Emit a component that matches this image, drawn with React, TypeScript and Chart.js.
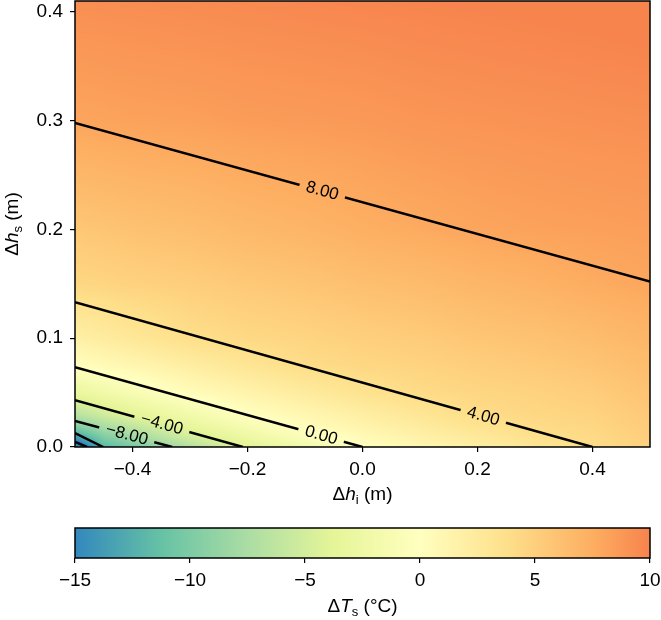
import React, { useEffect, useRef } from 'react';
import { Chart, registerables } from 'chart.js';

Chart.register(...registerables);

const FAMILY = "'Liberation Sans', Arial, Helvetica, sans-serif";

// ---- field grid (ΔTs in °C) ----
const xGrid = [-0.5, -0.45, -0.4, -0.3, -0.2, -0.1, 0, 0.1, 0.2, 0.3, 0.4, 0.5];
const yGrid = [0, 0.01, 0.02, 0.03, 0.05, 0.075, 0.1, 0.15, 0.2, 0.3, 0.41];
const tsRowY000 = [-18, -12, -10.3, -7.0, -3.8, -1.9, 0, 1.0, 2.0, 3.0, 4.0, 4.9];
const tsRowY001 = [-13.4, -9.6, -8.0, -4.8, -2.5, -0.6, 0.7, 1.7, 2.7, 3.7, 4.2, 5.1];
const tsRowY002 = [-9.4, -7.3, -5.9, -3.2, -1.2, 0.4, 1.4, 2.4, 3.4, 4.1, 4.5, 5.3];
const tsRowY003 = [-6.7, -5.2, -3.8, -1.9, 0.0, 1.0, 2.0, 3.0, 4.0, 4.4, 4.7, 5.5];
const tsRowY005 = [-3.1, -2.1, -1.2, 0.4, 1.4, 2.4, 3.4, 4.1, 4.5, 4.8, 5.2, 5.9];
const tsRowY0075 = [0.1, 0.6, 1.1, 2.1, 3.1, 4.0, 4.4, 4.7, 5.1, 5.4, 5.8, 6.4];
const tsRowY010 = [1.8, 2.3, 2.8, 3.8, 4.3, 4.6, 5.0, 5.3, 5.7, 6.0, 6.4, 6.9];
const tsRowY015 = [4.4, 4.6, 4.8, 5.1, 5.5, 5.8, 6.2, 6.5, 6.9, 7.2, 7.6, 7.95];
const tsRowY020 = [5.6, 5.8, 6.0, 6.3, 6.7, 7.0, 7.4, 7.7, 8.0, 8.2, 8.3, 8.4];
const tsRowY030 = [8.0, 8.1, 8.2, 8.3, 8.5, 8.6, 8.7, 8.9, 9.0, 9.1, 9.2, 9.3];
const tsRowY041 = [9.3, 9.35, 9.4, 9.5, 9.6, 9.7, 9.8, 9.9, 10.0, 10.1, 10.2, 10.3];
const tsGrid = [tsRowY000, tsRowY001, tsRowY002, tsRowY003, tsRowY005, tsRowY0075, tsRowY010, tsRowY015, tsRowY020, tsRowY030, tsRowY041];

// ---- contour lines ----
const contourLevels = [-16, -12, -8, -4, 0, 4, 8];
const contourStartX = [-0.5, -0.5, -0.5, -0.5, -0.5, -0.5, -0.5];
const contourStartY = [0.0046, 0.0128, 0.0239, 0.0431, 0.0734, 0.133, 0.298];
const contourEndX = [-0.479, -0.451, -0.331, -0.208, 0.0, 0.4, 0.5];
const contourEndY = [0, 0, 0, 0, 0, 0, 0.152];

// ---- contour labels ----
const labelLevels = [8, 4, 0, -4, -8];
const labelXs = [-0.07, 0.21, -0.072, -0.349, -0.41];
const labelTexts = ['8.00', '4.00', '0.00', '\u22124.00', '\u22128.00'];

// ---- axes ----
const xTickValues = [-0.4, -0.2, 0, 0.2, 0.4];
const yTickValues = [0, 0.1, 0.2, 0.3, 0.4];
const cbTickValues = [-15, -10, -5, 0, 5, 10];
const xRange = [-0.5, 0.5];
const yRange = [0, 0.41];
const cbRange = [-15, 10];

// ---- colormap (Spectral_r section) ----
const cmapValues = [-15, -11.25, -7.5, -3.75, 0, 3.75, 7.5, 11.25];
const cmapColors = ['#3288bd', '#66c2a5', '#abdda4', '#e6f598', '#ffffbf', '#fee08b', '#fdae61', '#f46d43'];

const hexRgb = (h: string) => [parseInt(h.slice(1, 3), 16), parseInt(h.slice(3, 5), 16), parseInt(h.slice(5, 7), 16)];
const cmapRgb = cmapColors.map(hexRgb);

function colorFor(v: number): number[] {
  const vv = Math.max(cbRange[0], Math.min(cbRange[1], v));
  let k = 0;
  while (k < cmapValues.length - 2 && vv > cmapValues[k + 1]) k++;
  const t = (vv - cmapValues[k]) / (cmapValues[k + 1] - cmapValues[k]);
  const a = cmapRgb[k], b = cmapRgb[k + 1];
  return [a[0] + (b[0] - a[0]) * t, a[1] + (b[1] - a[1]) * t, a[2] + (b[2] - a[2]) * t];
}

function valueAt(x: number, y: number): number {
  let i = 0;
  while (i < xGrid.length - 2 && x > xGrid[i + 1]) i++;
  let j = 0;
  while (j < yGrid.length - 2 && y > yGrid[j + 1]) j++;
  const tx = Math.max(0, Math.min(1, (x - xGrid[i]) / (xGrid[i + 1] - xGrid[i])));
  const ty = Math.max(0, Math.min(1, (y - yGrid[j]) / (yGrid[j + 1] - yGrid[j])));
  const v00 = tsGrid[j][i], v10 = tsGrid[j][i + 1], v01 = tsGrid[j + 1][i], v11 = tsGrid[j + 1][i + 1];
  return (v00 * (1 - tx) + v10 * tx) * (1 - ty) + (v01 * (1 - tx) + v11 * tx) * ty;
}

const fmtSigned = (v: number, d: number) => (v < 0 ? '\u2212' : '') + Math.abs(v).toFixed(d);

type Part = { t: string; italic?: boolean; sub?: boolean };
function drawRich(ctx: CanvasRenderingContext2D, parts: Part[], cx: number, cy: number, size: number, rot = 0) {
  ctx.save();
  ctx.translate(cx, cy);
  if (rot) ctx.rotate(rot);
  const fontFor = (p: Part) => `${p.italic ? 'italic ' : ''}${p.sub ? Math.round(size * 0.7) : size}px ${FAMILY}`;
  let total = 0;
  const widths = parts.map((p) => {
    ctx.font = fontFor(p);
    const w = ctx.measureText(p.t).width;
    total += w;
    return w;
  });
  let x = -total / 2;
  ctx.textBaseline = 'middle';
  ctx.textAlign = 'left';
  ctx.fillStyle = '#000';
  parts.forEach((p, i) => {
    ctx.font = fontFor(p);
    ctx.fillText(p.t, x, p.sub ? size * 0.3 : 0);
    x += widths[i];
  });
  ctx.restore();
}

const tickGrid = { drawOnChartArea: false, drawTicks: true, tickLength: 5, color: '#000', lineWidth: 1.2 };

export default function App() {
  const mainRef = useRef<HTMLCanvasElement>(null);
  const cbRef = useRef<HTMLCanvasElement>(null);

  useEffect(() => {
    Chart.defaults.font.family = FAMILY;
    Chart.defaults.color = '#000';
    let heat: HTMLCanvasElement | null = null;

    const heatPlugin = {
      id: 'heat',
      beforeDatasetsDraw(chart: any) {
        const { ctx, chartArea, scales } = chart;
        const { left, top } = chartArea;
        if (!heat) {
          const w = Math.round(chartArea.width), h = Math.round(chartArea.height);
          const c = document.createElement('canvas');
          c.width = w;
          c.height = h;
          const cctx = c.getContext('2d')!;
          const img = cctx.createImageData(w, h);
          for (let py = 0; py < h; py++) {
            const yv = scales.y.getValueForPixel(top + py + 0.5);
            for (let px = 0; px < w; px++) {
              const xv = scales.x.getValueForPixel(left + px + 0.5);
              const col = colorFor(valueAt(xv, yv));
              const o = (py * w + px) * 4;
              img.data[o] = col[0];
              img.data[o + 1] = col[1];
              img.data[o + 2] = col[2];
              img.data[o + 3] = 255;
            }
          }
          cctx.putImageData(img, 0, 0);
          heat = c;
        }
        ctx.drawImage(heat, left, top);
      },
    };

    const labelPlugin = {
      id: 'clabels',
      afterDatasetsDraw(chart: any) {
        const { ctx, chartArea, scales } = chart;
        const xs = scales.x, ys = scales.y;
        labelLevels.forEach((lev, n) => {
          const k = contourLevels.indexOf(lev);
          const x0 = contourStartX[k], y0 = contourStartY[k], x1 = contourEndX[k], y1 = contourEndY[k];
          const lx = labelXs[n];
          const ly = y0 + ((y1 - y0) * (lx - x0)) / (x1 - x0);
          const px = xs.getPixelForValue(lx), py = ys.getPixelForValue(ly);
          const ang = Math.atan2(ys.getPixelForValue(y1) - ys.getPixelForValue(y0), xs.getPixelForValue(x1) - xs.getPixelForValue(x0));
          ctx.font = `17px ${FAMILY}`;
          const tw = ctx.measureText(labelTexts[n]).width;
          const gap = tw + 14;
          ctx.save();
          ctx.translate(px, py);
          ctx.rotate(ang);
          ctx.beginPath();
          ctx.rect(-gap / 2, -4, gap, 8);
          ctx.rotate(-ang);
          ctx.translate(-px, -py);
          ctx.clip();
          if (heat) ctx.drawImage(heat, chartArea.left, chartArea.top);
          ctx.restore();
          ctx.save();
          ctx.translate(px, py);
          ctx.rotate(ang);
          ctx.fillStyle = '#000';
          ctx.textAlign = 'center';
          ctx.textBaseline = 'middle';
          ctx.font = `17px ${FAMILY}`;
          ctx.fillText(labelTexts[n], 0, 0);
          ctx.restore();
        });
      },
    };

    const framePlugin = {
      id: 'frame',
      afterDraw(chart: any) {
        const { ctx, chartArea } = chart;
        ctx.save();
        ctx.strokeStyle = '#000';
        ctx.lineWidth = 1.5;
        ctx.strokeRect(chartArea.left, chartArea.top, chartArea.width, chartArea.height);
        ctx.restore();
        drawRich(ctx, [{ t: '\u0394' }, { t: 'h', italic: true }, { t: 'i', sub: true }, { t: ' (m)' }], (chartArea.left + chartArea.right) / 2, 495, 19);
        drawRich(ctx, [{ t: '\u0394' }, { t: 'h', italic: true }, { t: 's', sub: true }, { t: ' (m)' }], 12.5, (chartArea.top + chartArea.bottom) / 2, 19, -Math.PI / 2);
      },
    };

    const datasets = contourLevels.map((lev, k) => ({
      label: String(lev),
      data: [
        { x: contourStartX[k], y: contourStartY[k] },
        { x: contourEndX[k], y: contourEndY[k] },
      ],
      showLine: true,
      borderColor: '#000',
      backgroundColor: '#000',
      borderWidth: 2.5,
      pointRadius: 0,
      fill: false,
      clip: 0,
    }));

    const main = new Chart(mainRef.current!, {
      type: 'scatter',
      data: { datasets } as any,
      options: {
        responsive: false,
        animation: false,
        events: [],
        layout: { padding: { top: 1, right: 11, left: 0, bottom: 0 } },
        plugins: { legend: { display: false }, tooltip: { enabled: false } },
        scales: {
          x: {
            type: 'linear',
            min: xRange[0],
            max: xRange[1],
            afterBuildTicks: (s: any) => {
              s.ticks = xTickValues.map((v) => ({ value: v }));
            },
            afterFit: (s: any) => {
              s.height = 63;
              s.paddingLeft = 0;
              s.paddingRight = 0;
            },
            grid: tickGrid,
            border: { display: false },
            ticks: { color: '#000', font: { size: 19 }, padding: 6, maxRotation: 0, autoSkip: false, callback: (v: any) => fmtSigned(Number(v), 1) },
          },
          y: {
            type: 'linear',
            min: yRange[0],
            max: yRange[1],
            afterBuildTicks: (s: any) => {
              s.ticks = yTickValues.map((v) => ({ value: v }));
            },
            afterFit: (s: any) => {
              s.width = 75;
              s.paddingTop = 0;
              s.paddingBottom = 0;
            },
            grid: tickGrid,
            border: { display: false },
            ticks: { color: '#000', font: { size: 19 }, padding: 7, autoSkip: false, callback: (v: any) => fmtSigned(Number(v), 1) },
          },
        },
      } as any,
      plugins: [heatPlugin, labelPlugin, framePlugin],
    });

    const cbPlugin = {
      id: 'cbar',
      beforeDatasetsDraw(chart: any) {
        const { ctx, chartArea, scales } = chart;
        const g = ctx.createLinearGradient(chartArea.left, 0, chartArea.right, 0);
        const stops = [cbRange[0], ...cmapValues.filter((v) => v > cbRange[0] && v < cbRange[1]), cbRange[1]];
        stops.forEach((v) => {
          const c = colorFor(v);
          const pos = (scales.x.getPixelForValue(v) - chartArea.left) / (chartArea.right - chartArea.left);
          g.addColorStop(Math.max(0, Math.min(1, pos)), `rgb(${Math.round(c[0])},${Math.round(c[1])},${Math.round(c[2])})`);
        });
        ctx.save();
        ctx.fillStyle = g;
        ctx.fillRect(chartArea.left, chartArea.top, chartArea.width, chartArea.height);
        ctx.strokeStyle = '#000';
        ctx.lineWidth = 1.5;
        ctx.strokeRect(chartArea.left, chartArea.top, chartArea.width, chartArea.height);
        ctx.restore();
      },
      afterDraw(chart: any) {
        const { ctx, chartArea } = chart;
        drawRich(ctx, [{ t: '\u0394' }, { t: 'T', italic: true }, { t: 's', sub: true }, { t: ' (\u00b0C)' }], (chartArea.left + chartArea.right) / 2, 97, 19);
      },
    };

    const cb = new Chart(cbRef.current!, {
      type: 'scatter',
      data: { datasets: [] },
      options: {
        responsive: false,
        animation: false,
        events: [],
        layout: { padding: { top: 18, right: 11, left: 75, bottom: 0 } },
        plugins: { legend: { display: false }, tooltip: { enabled: false } },
        scales: {
          x: {
            type: 'linear',
            min: cbRange[0],
            max: cbRange[1],
            afterBuildTicks: (s: any) => {
              s.ticks = cbTickValues.map((v) => ({ value: v }));
            },
            afterFit: (s: any) => {
              s.height = 62;
              s.paddingLeft = 0;
              s.paddingRight = 0;
            },
            grid: tickGrid,
            border: { display: false },
            ticks: { color: '#000', font: { size: 19 }, padding: 6, maxRotation: 0, autoSkip: false, callback: (v: any) => fmtSigned(Number(v), 0) },
          },
          y: { display: false, min: 0, max: 1 },
        },
      } as any,
      plugins: [cbPlugin],
    });

    return () => {
      main.destroy();
      cb.destroy();
    };
  }, []);

  return (
    <div style={{ position: 'absolute', left: 0, top: 0, width: 661, height: 620, background: '#fff' }}>
      <canvas ref={mainRef} width={661} height={510} style={{ display: 'block' }} />
      <canvas ref={cbRef} width={661} height={110} style={{ display: 'block' }} />
    </div>
  );
}
